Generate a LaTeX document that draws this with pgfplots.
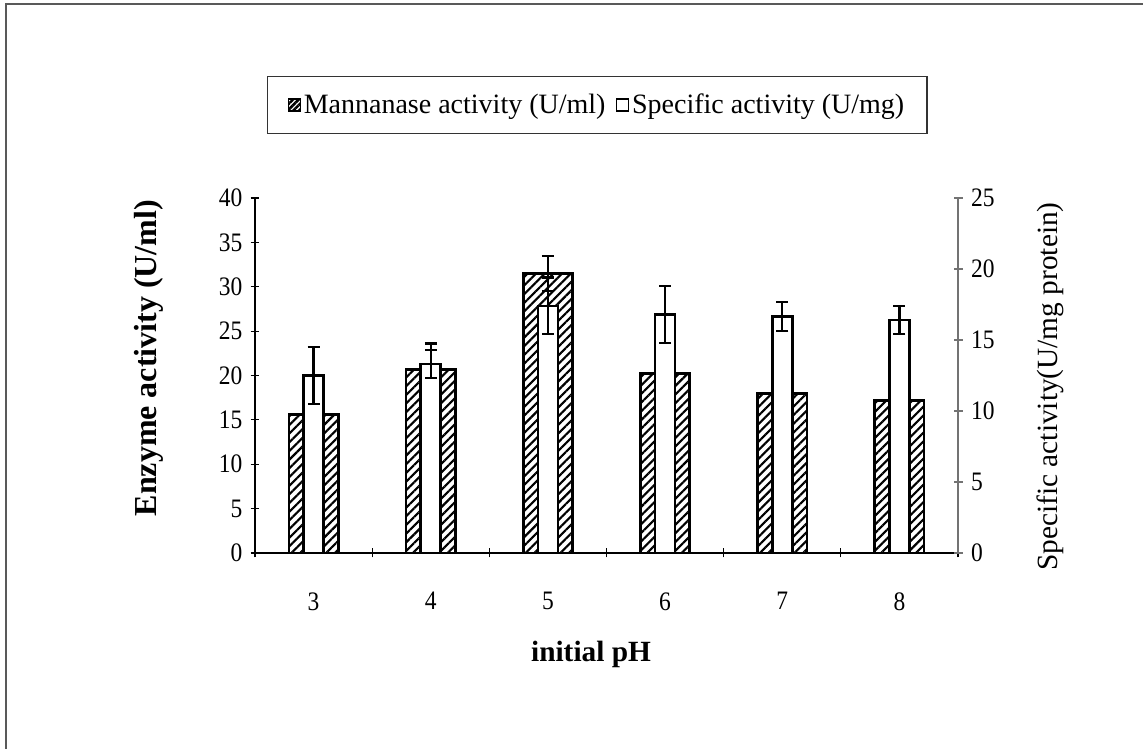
\documentclass[border=0pt]{standalone}
\usepackage{fontspec}
\setmainfont{Liberation Serif}
\newfontfamily\tickfam{Liberation Serif}[FakeStretch=0.88]
\usepackage{pgfplots}
\pgfplotsset{compat=1.18}
\usetikzlibrary{patterns.meta}

\pgfplotstableread{
x y e
3 15.6 1.5
4 20.7 2.9
5 31.5 2.0
6 20.2 1.5
7 18.0 1.2
8 17.2 1.2
}\mannan
\pgfplotstableread{
x y e
3 12.5 2.0
4 13.3 1.0
5 17.4 2.0
6 16.8 2.0
7 16.65 1.0
8 16.4 1.0
}\specific

\newcommand{\tickfont}{\tickfam\fontsize{20}{22}\selectfont}

\begin{document}
\begin{tikzpicture}[x=0.75pt,y=0.75pt]
\path[use as bounding box] (0,0) rectangle (1143,749);
\draw[line width=1.5pt, black!65] (5.5,0) -- (5.5,744.5) -- (1143,744.5);

\pgfplotsset{
  common/.style={
    at={(191.25pt,147pt)}, anchor=south west,
    scale only axis, width=527.25pt, height=266.25pt,
    xmin=2.5, xmax=8.5, ymin=0,
    tick align=outside, major tick length=6.75pt,
    /pgf/number format/assume math mode=true,
    clip=false,
  },
  errs/.style={
    error bars/.cd, y dir=both, y explicit,
    error bar style={line width=1.7pt, black},
    error mark options={rotate=90, line width=1.7pt, mark size=4.5pt, black},
  },
}

\begin{axis}[common,
  ymax=40, ytick={0,5,...,40},
  axis x line=bottom, axis y line=left,
  axis line style={-, line width=0.9pt, black},
  tick style={line width=0.8pt, black},
  xtick={2.5,3.5,...,8.5}, xticklabels={},
  extra x ticks={3,4,5,6,7,8},
  extra x tick labels={3,4,5,6,7,8},
  extra x tick style={major tick length=0pt},
  xticklabel style={font=\tickfont},
  yticklabel style={font=\tickfont, xshift=-2.5pt},
  xticklabel shift=26pt,
  xlabel={initial pH},
  xlabel style={at={(axis description cs:0.478,0)}, anchor=center, yshift=-76pt, font=\bfseries\fontsize{22}{26}\selectfont},
  ylabel={Enzyme activity (U/ml)},
  ylabel style={at={(axis description cs:-0.1508,0.549)}, anchor=center, font=\bfseries\fontsize{24}{28}\selectfont},
  legend columns=2,
  legend style={at={(axis description cs:0.487,1.262)}, anchor=center, draw=black!80, line width=0.9pt,
    font=\fontsize{21}{24}\selectfont, inner xsep=15pt, inner ysep=11pt,
    /tikz/every even column/.append style={column sep=6pt}},
  legend image code/.code={\draw[#1, line width=1pt] (0pt,-4.5pt) rectangle (9pt,4.5pt);},
]
\addplot[forget plot, ybar, bar width=0.42, bar shift=0pt, draw=black, line width=2pt,
  pattern={Lines[angle=45,distance=4.6pt,line width=1.6pt]}, errs]
  table[x=x, y=y, y error=e] {\mannan};
\addlegendimage{draw=black, pattern={Lines[angle=45,distance=3pt,line width=1.9pt]}}
\addlegendentry{Mannanase activity (U/ml)}
\addlegendimage{draw=black, fill=white}
\addlegendentry{Specific activity (U/mg)}
\end{axis}

\begin{axis}[common,
  ymax=25, ytick={0,5,...,25},
  axis x line=none, axis y line=right,
  axis line style={-, line width=0.8pt, black!55},
  tick style={line width=0.8pt, black!55},
  yticklabel style={font=\tickfont, xshift=3pt},
  ylabel={Specific activity(U/mg protein)},
  ylabel style={at={(axis description cs:1.1309,0.469)}, anchor=center, font=\fontsize{22}{26}\selectfont},
]
\addplot[ybar, bar width=0.17, bar shift=0pt, draw=black, line width=2pt, fill=white, errs]
  table[x=x, y=y, y error=e] {\specific};
\end{axis}
\end{tikzpicture}
\end{document}
